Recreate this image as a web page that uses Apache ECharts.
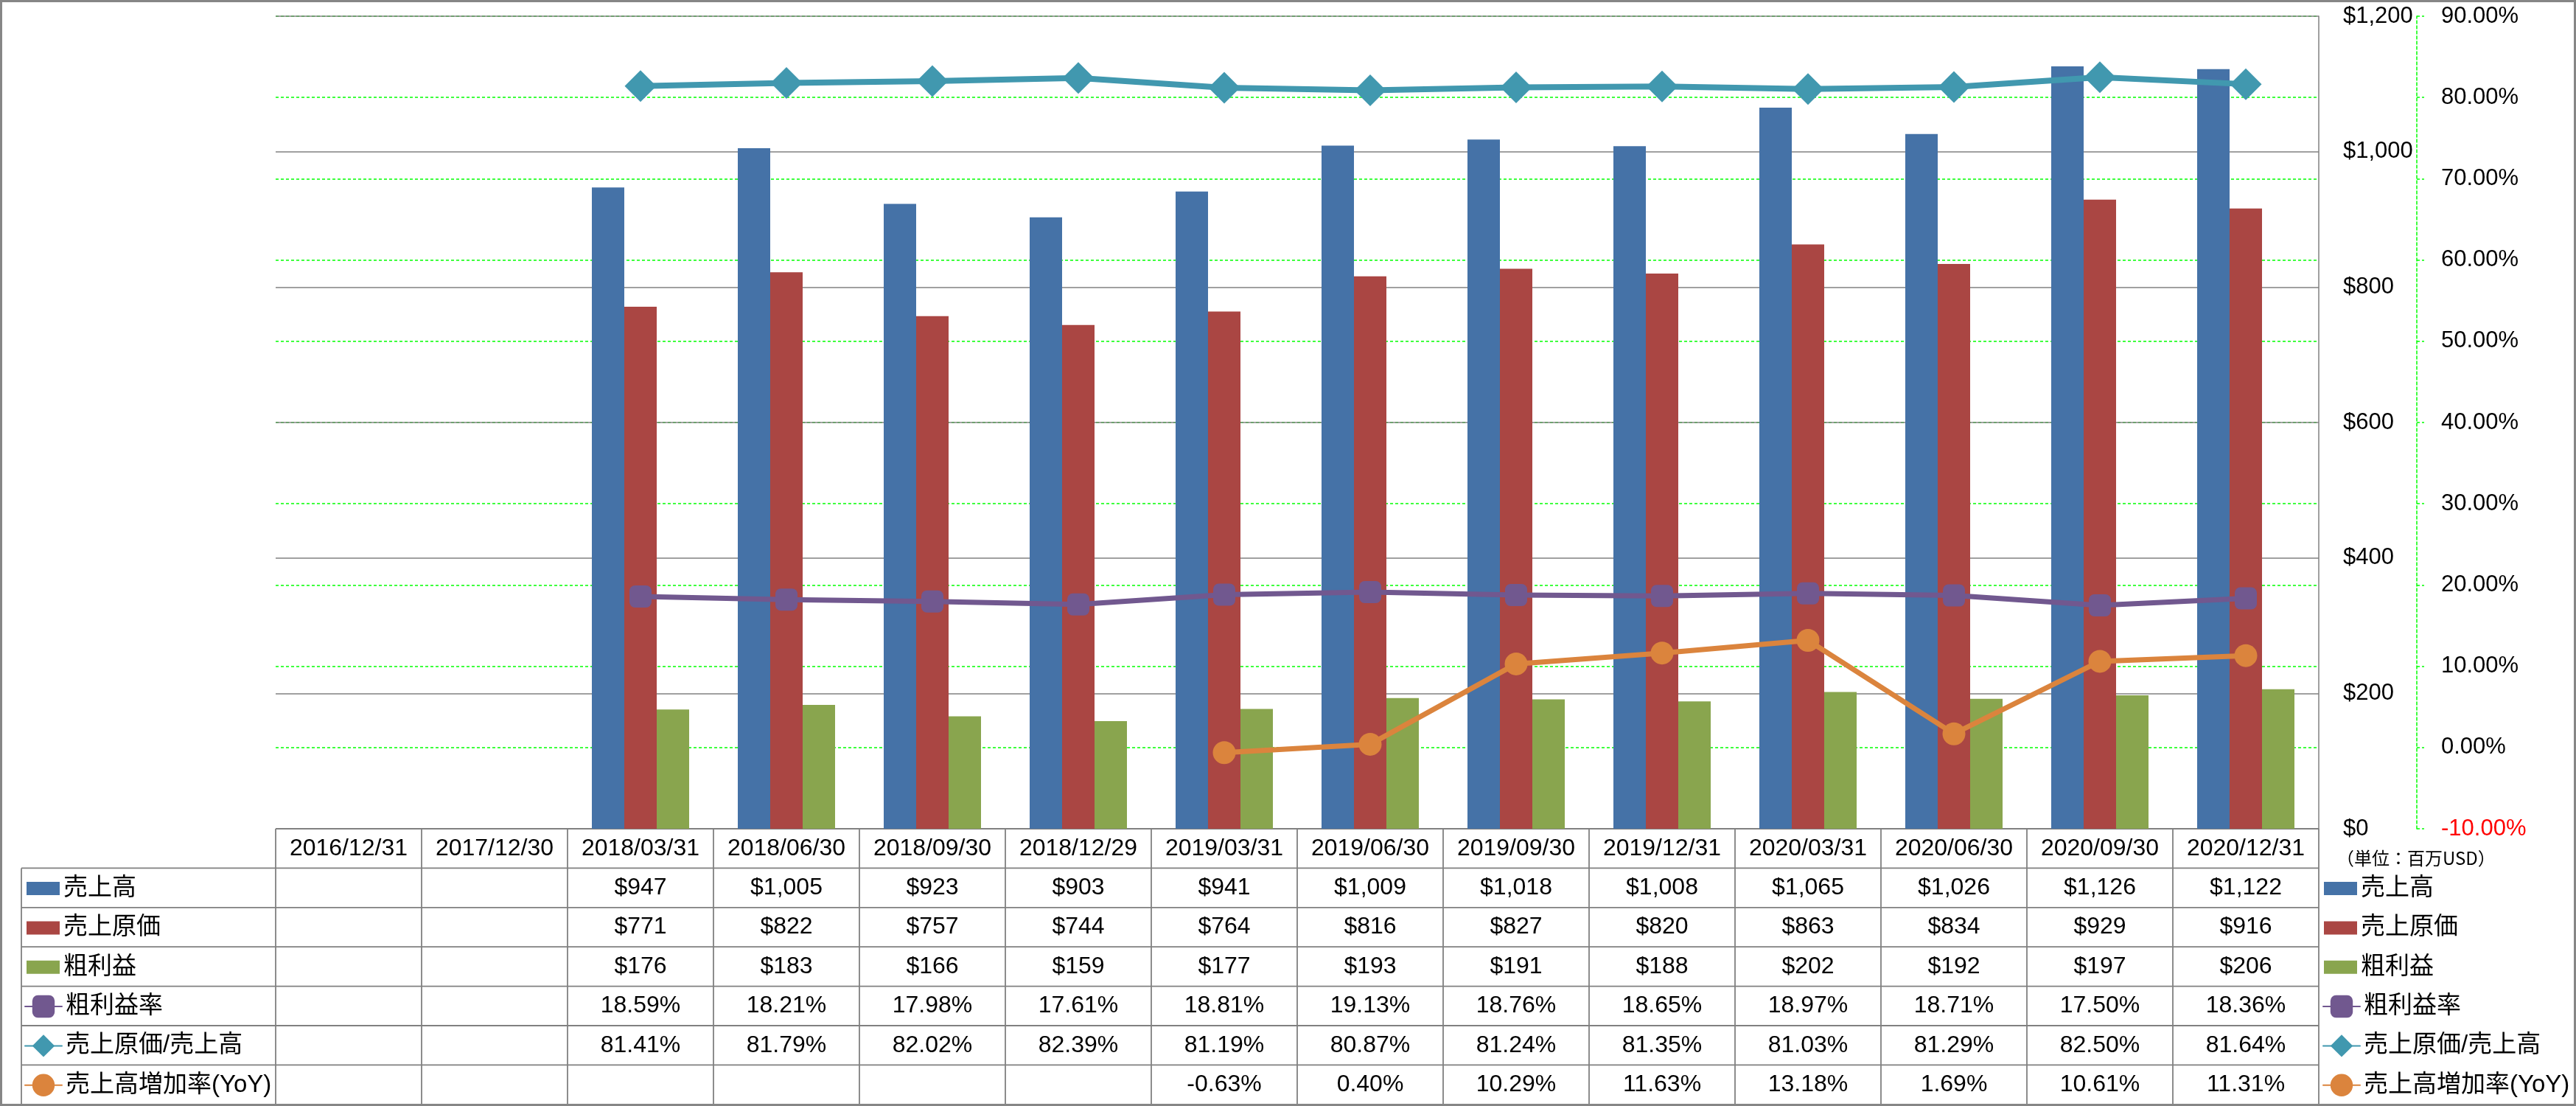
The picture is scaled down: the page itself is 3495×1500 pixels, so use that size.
<!DOCTYPE html>
<html>
<head>
<meta charset="utf-8">
<script src="https://cdn.jsdelivr.net/npm/echarts@6/dist/echarts.min.js"></script>
<style>
html,body{margin:0;padding:0;background:#fff;}
#c{width:3495px;height:1500px;}
</style>
</head>
<body>
<div id="c"></div>
<script>
// ---- data ----
const categories = ['2016/12/31','2017/12/30','2018/03/31','2018/06/30','2018/09/30','2018/12/29','2019/03/31','2019/06/30','2019/09/30','2019/12/31','2020/03/31','2020/06/30','2020/09/30','2020/12/31'];
const revenue     = [null,null,947,1005,923,903,941,1009,1018,1008,1065,1026,1126,1122];
const cost        = [null,null,771,822,757,744,764,816,827,820,863,834,929,916];
const grossProfit = [null,null,176,183,166,159,177,193,191,188,202,192,197,206];
const grossMargin = [null,null,18.59,18.21,17.98,17.61,18.81,19.13,18.76,18.65,18.97,18.71,17.50,18.36];
const costRatio   = [null,null,81.41,81.79,82.02,82.39,81.19,80.87,81.24,81.35,81.03,81.29,82.50,81.64];
const yoyGrowth   = [null,null,null,null,null,null,-0.63,0.40,10.29,11.63,13.18,1.69,10.61,11.31];
const seriesNames = ['売上高','売上原価','粗利益','粗利益率','売上原価/売上高','売上高増加率(YoY)'];
const unitLabel = '（単位：百万USD）';
const moneyAxis = {min:0, max:1200, interval:200};
const pctAxis = {min:-10, max:90, interval:10};

// ---- style ----
const FONT = "'Liberation Sans','Noto Sans CJK JP',sans-serif";
const COLORS = ['#4572a7','#aa4643','#89a54e','#71588f','#4198af','#db843d'];
const GRAY = '#808080';
const GREEN = '#00ff00';

const chart = echarts.init(document.getElementById('c'), null, {renderer:'canvas'});

const fmtMoney = v => (v == null ? '' : '$' + v.toLocaleString('en-US'));
const fmtPct = v => (v == null ? '' : v.toFixed(2) + '%');

const legendText = {fontSize:33, fontFamily:FONT, color:'#000', lineHeight:40};
function legendPair(leftBars, leftLines){
  return [
    {data:seriesNames.slice(0,3), orient:'vertical', left:leftBars, top:1185, padding:0,
     itemWidth:45, itemHeight:18, itemGap:13.4, icon:'rect', textStyle:legendText, selectedMode:false},
    {data:seriesNames.slice(3), orient:'vertical', left:leftLines, top:1345, padding:0,
     itemWidth:50, itemHeight:38, itemGap:13.4, textStyle:legendText, selectedMode:false}
  ];
}

const lineCommon = (name, data, color, symbol, size, width) => ({
  name, type:'line', yAxisIndex:1, data, connectNulls:false,
  symbol, symbolSize:size, showAllSymbol:true,
  itemStyle:{color},
  lineStyle:{color, width, cap:'round', join:'round'},
  z:5
});

const option = {
  animation:false,
  backgroundColor:'#fff',
  textStyle:{fontFamily:FONT},
  grid:{left:374, right:349, top:22, bottom:376, containLabel:false},
  legend:[...legendPair(36,33), ...legendPair(3153,3151)],
  xAxis:{type:'category', data:categories, boundaryGap:true,
    axisLine:{show:false}, axisTick:{show:false}, axisLabel:{show:false}, splitLine:{show:false}},
  yAxis:[
    {type:'value', position:'right', z:1, min:moneyAxis.min, max:moneyAxis.max, interval:moneyAxis.interval,
     axisLine:{show:true, lineStyle:{color:GRAY, width:1.5}},
     axisTick:{show:false},
     axisLabel:{formatter:fmtMoney, align:'left', margin:33, fontSize:31, fontFamily:FONT, color:'#000'},
     splitLine:{show:true, lineStyle:{color:GRAY, width:1.5}}},
    {type:'value', position:'right', z:0, offset:133, min:pctAxis.min, max:pctAxis.max, interval:pctAxis.interval,
     axisLine:{show:true, lineStyle:{color:GREEN, width:1.5, type:[4,3]}},
     axisTick:{show:true, inside:false, length:10, lineStyle:{color:GREEN, width:1.5, type:[4,3]}},
     axisLabel:{formatter:v => v.toFixed(2) + '%', align:'left', margin:33, fontSize:31, fontFamily:FONT,
       color:(v) => (Number(v) < 0 ? '#ff0000' : '#000')},
     splitLine:{show:true, lineStyle:{color:GREEN, width:1.5, type:[4,3]}}}
  ],
  series:[
    {name:seriesNames[0], type:'bar', data:revenue, itemStyle:{color:COLORS[0]}, barGap:'0%', barCategoryGap:'33.33%'},
    {name:seriesNames[1], type:'bar', data:cost, itemStyle:{color:COLORS[1]}, barGap:'0%', barCategoryGap:'33.33%'},
    {name:seriesNames[2], type:'bar', data:grossProfit, itemStyle:{color:COLORS[2]}, barGap:'0%', barCategoryGap:'33.33%'},
    lineCommon(seriesNames[3], grossMargin, COLORS[3], 'roundRect', 30, 7),
    lineCommon(seriesNames[4], costRatio, COLORS[4], 'diamond', 43, 8),
    lineCommon(seriesNames[5], yoyGrowth, COLORS[5], 'circle', 31, 7)
  ]
};
chart.setOption(option);

// ---- data table (built from the arrays, positioned by the category axis) ----
const cx = categories.map((c, i) => chart.convertToPixel({xAxisIndex:0}, i));
const colW = cx[1] - cx[0];
const tableLeft = cx[0] - colW / 2;
const tableRight = cx[cx.length - 1] + colW / 2;
const tableTop = chart.convertToPixel({yAxisIndex:0}, 0);
const rowH = 53.4;
const labelLeft = 29;
const rows = [
  revenue.map(fmtMoney), cost.map(fmtMoney), grossProfit.map(fmtMoney),
  grossMargin.map(fmtPct), costRatio.map(fmtPct), yoyGrowth.map(fmtPct)
];
const g = [];
const lineStyle = {stroke:GRAY, lineWidth:1.8};
g.push({type:'line', shape:{x1:tableLeft, y1:tableTop, x2:tableRight, y2:tableTop}, style:lineStyle, silent:true});
for (let r = 1; r <= 7; r++) {
  const y = tableTop + r * rowH;
  g.push({type:'line', shape:{x1:labelLeft, y1:y, x2:tableRight, y2:y}, style:lineStyle, silent:true});
}
g.push({type:'line', shape:{x1:labelLeft, y1:tableTop + rowH, x2:labelLeft, y2:tableTop + 7 * rowH}, style:lineStyle, silent:true});
for (let i = 0; i <= categories.length; i++) {
  const x = tableLeft + i * colW;
  g.push({type:'line', shape:{x1:x, y1:tableTop, x2:x, y2:tableTop + 7 * rowH}, style:lineStyle, silent:true});
}
categories.forEach((c, i) => {
  g.push({type:'text', x:cx[i], y:tableTop + rowH / 2, silent:true,
    style:{text:c, fontSize:32, fontFamily:FONT, fill:'#000', align:'center', verticalAlign:'middle'}});
});
rows.forEach((row, r) => {
  row.forEach((t, i) => {
    if (!t) return;
    g.push({type:'text', x:cx[i], y:tableTop + (r + 1.5) * rowH, silent:true,
      style:{text:t, fontSize:32, fontFamily:FONT, fill:'#000', align:'center', verticalAlign:'middle'}});
  });
});
g.push({type:'text', x:3170, y:tableTop + 40, silent:true,
  style:{text:unitLabel, fontSize:24, fontFamily:"'Noto Sans CJK JP',sans-serif", fill:'#000', align:'left', verticalAlign:'middle'}});
g.push({type:'rect', shape:{x:1.5, y:1.5, width:3492, height:1497}, style:{fill:'none', stroke:'#868686', lineWidth:3}, silent:true, z:100});

chart.setOption({graphic:g});
</script>
</body>
</html>
